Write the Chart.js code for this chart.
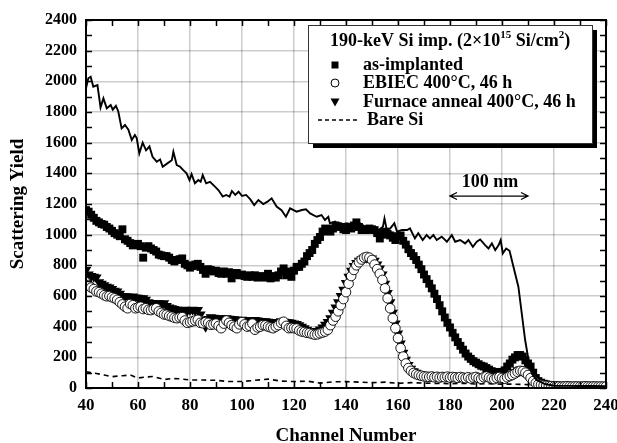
<!DOCTYPE html>
<html>
<head>
<meta charset="utf-8">
<script src="https://cdn.jsdelivr.net/npm/chart.js@4.4.1/dist/chart.umd.min.js"></script>
<style>
  html, body { margin: 0; padding: 0; background: #fff; }
  #wrap { width: 617px; height: 443px; }
</style>
</head>
<body>
<div id="wrap"><canvas id="rbs" width="617" height="443"></canvas></div>
<script>
// ---------------------------------------------------------------
//  Data (channels 40..240, one value per channel)
// ---------------------------------------------------------------
const channels = Array.from({ length: 201 }, (_, i) => 40 + i);

const asImplanted = [
  1160, 1150, 1130, 1110, 1090, 1080, 1070, 1065, 1050, 1040,
  1025, 1010, 1000, 990, 1035, 970, 960, 945, 930, 935,
  940, 925, 850, 915, 925, 910, 900, 890, 870, 865,
  860, 860, 850, 835, 825, 835, 840, 845, 810, 800,
  785, 795, 805, 810, 790, 770, 745, 775, 770, 760,
  765, 750, 745, 760, 745, 755, 715, 740, 750, 735,
  740, 730, 725, 735, 725, 735, 720, 725, 730, 720,
  745, 715, 730, 720, 735, 760, 780, 735, 760, 725,
  765, 790, 790, 810, 825, 860, 880, 900, 940, 965,
  985, 1020, 1040, 1025, 1020, 1040, 1060, 1055, 1050, 1035,
  1030, 1045, 1040, 1060, 1080, 1050, 1030, 1035, 1030, 1040,
  1035, 1030, 1010, 975, 1000, 1020, 1005, 995, 980, 965,
  990, 995, 960, 935, 905, 880, 860, 835, 805, 775,
  740, 710, 680, 650, 615, 580, 540, 500, 460, 425,
  395, 360, 330, 300, 275, 250, 225, 205, 190, 175,
  165, 155, 145, 140, 130, 120, 110, 105, 100, 95,
  105, 115, 140, 160, 185, 200, 215, 215, 205, 180,
  160, 140, 100, 65, 45, 35, 28, 24, 20, 18,
  16, 14, 15, 13, 14, 15, 13, 12, 14, 13,
  12, 14, 13, 12, 13, 14, 12, 13, 12, 13,
  12
];

const ebiec = [
  690, 672, 655, 645, 630, 625, 615, 605, 598, 600,
  592, 585, 575, 560, 545, 530, 520, 548, 540, 520,
  525, 530, 515, 520, 510, 508, 515, 520, 500, 490,
  480, 478, 470, 465, 458, 455, 460, 462, 440, 425,
  430, 435, 440, 445, 425, 422, 430, 425, 412, 415,
  420, 405, 390, 420, 440, 425, 410, 400, 390, 415,
  430, 415, 400, 405, 420, 380, 395, 400, 410, 408,
  400, 395, 390, 400, 410, 425, 432, 405, 390, 392,
  390, 388, 375, 368, 365, 360, 358, 352, 348, 350,
  357, 362, 368, 380, 410, 440, 465, 500, 540, 580,
  625, 680, 730, 770, 800, 820, 838, 850, 855, 850,
  835, 805, 775, 745, 705, 650, 585, 520, 455, 390,
  325, 260, 205, 160, 130, 112, 98, 90, 84, 80,
  76, 74, 72, 75, 70, 73, 68, 72, 70, 74,
  68, 72, 70, 66, 72, 68, 64, 70, 62, 68,
  72, 65, 60, 70, 75, 68, 62, 58, 66, 72,
  65, 60, 70, 78, 85, 95, 105, 112, 110, 100,
  85, 65, 45, 32, 24, 20, 16, 14, 12, 12,
  10, 11, 10, 9, 10, 11, 10, 9, 10, 10,
  9, 10, 11, 10, 9, 10, 10, 9, 10, 9,
  10
];

const furnace = [
  770, 740, 730, 725, 720, 690, 680, 670, 660, 655,
  645, 635, 630, 615, 600, 598, 596, 594, 596, 590,
  588, 586, 585, 575, 560, 552, 555, 550, 552, 548,
  552, 535, 525, 520, 515, 510, 508, 505, 510, 505,
  508, 510, 505, 508, 480, 445, 400, 450, 462, 458,
  455, 452, 455, 450, 455, 452, 450, 448, 445, 442,
  445, 442, 440, 440, 438, 443, 440, 437, 435, 435,
  432, 430, 430, 428, 430, 435, 433, 430, 428, 425,
  420, 418, 410, 400, 390, 380, 372, 368, 368, 372,
  382, 395, 412, 430, 455, 490, 525, 560, 600, 640,
  685, 725, 765, 795, 815, 830, 840, 848, 850, 848,
  845, 830, 805, 780, 740, 680, 620, 560, 490, 420,
  355, 290, 230, 185, 150, 125, 110, 100, 92, 85,
  80, 78, 76, 80, 75, 78, 74, 77, 75, 79,
  74, 76, 75, 72, 77, 73, 70, 75, 68, 72,
  76, 70, 66, 74, 78, 72, 68, 64, 70, 76,
  70, 66, 74, 82, 92, 102, 115, 120, 115, 104,
  88, 68, 48, 34, 26, 20, 16, 14, 13, 12,
  11, 12, 11, 10, 11, 12, 11, 10, 11, 11,
  10, 11, 12, 11, 10, 11, 11, 10, 11, 10,
  11
];

// solid line (random spectrum), read as channel / yield pairs
const randomX = [
  40, 40.9, 41.8, 42.8, 44.4, 45.6, 46.7, 48, 49.5, 50.3, 51.5, 52.4, 53.7, 55, 56.3,
  57.6, 58.8, 59.5, 60.5, 61.8, 63.1, 64.4, 65.6, 67.2, 68.5, 69.5, 71.3, 73, 73.6,
  74.9, 76.2, 77.4, 78.7, 79.8, 80.6, 81.9, 83.2, 84.1, 84.9, 86.2, 87.7, 89.6, 90.9,
  92.6, 93.9, 95.2, 96.1, 97.4, 98.7, 100, 101.6, 103.2, 104.7, 106.3, 108.2, 109.8,
  111.4, 113.3, 115.2, 116.9, 118.5, 121, 123, 124.6, 126.2, 128.7, 130.6, 131.9,
  133.2, 133.8, 135.8, 137.7, 140.3, 142.8, 145.4, 147.4, 150, 152.5, 154.2, 154.8,
  155.7, 157, 158.6, 159.6, 161.5, 163.5, 164.6, 166.5, 167.8, 169.5, 171, 172.3,
  173.6, 174.9, 176.8, 178.8, 180.7, 182, 183.9, 185.8, 187.1, 188.8, 190.3, 191.6,
  193.5, 194.8, 196.1, 197.4, 198.7, 199.5, 200.3, 201.6, 202.9, 204.4, 206.3, 207.6,
  208.9, 210.2, 211.4, 213.3, 216.5, 220, 225, 230, 235, 240
];
const randomY = [
  1955, 2020, 2030, 1965, 1976, 1830, 1889, 1824, 1845, 1815, 1840, 1805, 1693, 1715, 1685,
  1617, 1650, 1630, 1530, 1600, 1550, 1575, 1508, 1476, 1491, 1443, 1465, 1485, 1541,
  1454, 1443, 1421, 1400, 1356, 1395, 1335, 1356, 1345, 1389, 1335, 1345, 1313, 1291,
  1248, 1259, 1248, 1285, 1259, 1280, 1252, 1259, 1230, 1193, 1226, 1200, 1215,
  1237, 1183, 1160, 1117, 1172, 1150, 1161, 1165, 1139, 1117, 1128, 1096,
  1117, 1074, 1085, 1063, 1074, 1063, 1074, 1052, 1041, 1030, 1052, 1106,
  1030, 1041, 1074, 1020, 1030, 1030, 1041, 976, 1009, 965, 998, 976,
  998, 965, 987, 954, 998, 954, 965, 943, 965, 921, 954, 969,
  932, 910, 943, 899, 932, 965, 878, 910, 895, 791, 661, 487,
  313, 183, 96, 52, 26, 15, 14, 13, 13, 12
];

// bare Si (dashed)
const bareX = [
  40, 44, 47, 50, 54, 57, 60, 63, 66, 70, 73, 76, 80, 85, 90, 95, 100, 105, 110, 115,
  120, 125, 130, 135, 140, 145, 150, 155, 160, 165, 170, 175, 180, 185, 190, 195, 200,
  205, 210, 213, 216, 220, 230, 240
];
const bareY = [
  105, 95, 85, 74, 80, 85, 65, 72, 75, 55, 62, 60, 52, 52, 50, 42, 42, 50, 58, 45,
  42, 45, 32, 40, 42, 38, 35, 38, 30, 35, 32, 30, 28, 30, 26, 28, 25,
  25, 22, 16, 12, 10, 9, 8
];

const xTicks = { min: 40, max: 240, step: 20, minor: 10 };
const yTicks = { min: 0, max: 2400, step: 200, minor: 100 };

const legendTitle = ["190-keV Si imp. (2\u00d710", "15", " Si/cm", "2", ")"];
const legendLabels = ["as-implanted", "EBIEC 400\u00b0C, 46 h", "Furnace anneal 400\u00b0C, 46 h", "Bare Si"];
const scaleBar = { from: 180, to: 210, y: 1252, label: "100 nm", labelY: 1340 };

// ---------------------------------------------------------------
//  Helpers
// ---------------------------------------------------------------
const FONT = "'Liberation Serif', 'Times New Roman', serif";
const pairs = (xs, ys) => xs.map((x, i) => ({ x, y: ys[i] }));

// frame + inward ticks on all four sides
const framePlugin = {
  id: "frame",
  afterDraw(chart) {
    const { ctx: c, chartArea: a, scales: { x, y } } = chart;
    c.save();
    c.strokeStyle = "#000";
    c.lineWidth = 1.5;
    c.beginPath();
    for (let v = xTicks.min; v <= xTicks.max; v += xTicks.minor) {
      const px = Math.round(x.getPixelForValue(v)) + 0.5;
      c.moveTo(px, a.bottom); c.lineTo(px, a.bottom - 6);
      c.moveTo(px, a.top);    c.lineTo(px, a.top + 6);
    }
    for (let v = yTicks.min; v <= yTicks.max; v += yTicks.minor) {
      const py = Math.round(y.getPixelForValue(v)) + 0.5;
      c.moveTo(a.left, py);  c.lineTo(a.left + 6, py);
      c.moveTo(a.right, py); c.lineTo(a.right - 6, py);
    }
    c.stroke();
    c.lineWidth = 2;
    c.strokeRect(a.left, a.top, a.right - a.left, a.bottom - a.top);
    c.restore();
  },
};

// boxed legend with drop shadow + "100 nm" scale bar
const legendPlugin = {
  id: "boxLegend",
  afterDraw(chart) {
    const c = chart.ctx;
    const { x, y } = chart.scales;
    const bx = 308, by = 25, bw = 284, bh = 118;
    c.save();
    c.fillStyle = "#000";
    c.fillRect(bx + 5, by + 5, bw, bh);
    c.fillStyle = "#fff";
    c.fillRect(bx, by, bw, bh);
    c.strokeStyle = "#333";
    c.lineWidth = 1;
    c.strokeRect(bx + 0.5, by + 0.5, bw, bh);

    c.fillStyle = "#000";
    c.textBaseline = "middle";
    c.textAlign = "left";
    // title with superscripts
    let tx = 330;
    const ty = 41;
    legendTitle.forEach((part, i) => {
      const sup = i % 2 === 1;
      c.font = `bold ${sup ? 11 : 18}px ${FONT}`;
      c.fillText(part, tx, sup ? ty - 6 : ty);
      tx += c.measureText(part).width;
    });

    c.font = `bold 18px ${FONT}`;
    const rows = [65, 83, 102, 120];
    const mx = 335, lx = 363;
    // square
    c.fillRect(mx - 3.5, rows[0] - 3.5, 7, 7);
    // circle
    c.beginPath();
    c.arc(mx, rows[1], 4, 0, Math.PI * 2);
    c.fillStyle = "#fff"; c.fill();
    c.strokeStyle = "#000"; c.lineWidth = 1; c.stroke();
    c.fillStyle = "#000";
    // down triangle
    c.beginPath();
    c.moveTo(mx - 4.5, rows[2] - 3.5);
    c.lineTo(mx + 4.5, rows[2] - 3.5);
    c.lineTo(mx, rows[2] + 4.5);
    c.closePath(); c.fill();
    // dashed line
    c.beginPath();
    c.setLineDash([4, 3]);
    c.lineWidth = 1.5;
    c.moveTo(318, rows[3]); c.lineTo(358, rows[3]);
    c.stroke();
    c.setLineDash([]);

    legendLabels.forEach((t, i) => c.fillText(t, i === 3 ? 367 : lx, rows[i]));

    // scale bar
    const x0 = x.getPixelForValue(scaleBar.from);
    const x1 = x.getPixelForValue(scaleBar.to);
    const py = y.getPixelForValue(scaleBar.y);
    c.beginPath();
    c.lineWidth = 1.3;
    c.moveTo(x0, py); c.lineTo(x1, py);
    c.moveTo(x0 + 7, py - 3.5); c.lineTo(x0, py); c.lineTo(x0 + 7, py + 3.5);
    c.moveTo(x1 - 7, py - 3.5); c.lineTo(x1, py); c.lineTo(x1 - 7, py + 3.5);
    c.stroke();
    c.textAlign = "center";
    c.fillText(scaleBar.label, (x0 + x1) / 2 + 1, y.getPixelForValue(scaleBar.labelY));
    c.restore();
  },
};

// ---------------------------------------------------------------
//  Chart
// ---------------------------------------------------------------
Chart.defaults.font.family = FONT;
Chart.defaults.color = "#000";

new Chart(document.getElementById("rbs"), {
  type: "scatter",
  data: {
    datasets: [
      {
        label: "random",
        data: pairs(randomX, randomY),
        showLine: true,
        borderColor: "#000",
        borderWidth: 1.9,
        pointRadius: 0,
      },
      {
        label: legendLabels[1],
        data: pairs(channels, ebiec),
        pointStyle: "circle",
        pointRadius: 4.8,
        backgroundColor: "#fff",
        borderColor: "#000",
        borderWidth: 0.9,
      },
      {
        label: legendLabels[2],
        data: pairs(channels, furnace),
        pointStyle: "triangle",
        rotation: 180,
        pointRadius: 6,
        backgroundColor: "#000",
        borderColor: "#000",
        borderWidth: 0,
      },
      {
        label: legendLabels[0],
        data: pairs(channels, asImplanted),
        pointStyle: "rect",
        pointRadius: 5.6,
        backgroundColor: "#000",
        borderColor: "#000",
        borderWidth: 0,
      },
      {
        label: legendLabels[3],
        data: pairs(bareX, bareY),
        showLine: true,
        borderColor: "#000",
        borderWidth: 1.6,
        borderDash: [5, 4],
        pointRadius: 0,
      },
    ],
  },
  options: {
    responsive: false,
    animation: false,
    layout: { padding: { top: 20, right: 11, left: 0, bottom: 0 } },
    scales: {
      x: {
        type: "linear",
        min: xTicks.min,
        max: xTicks.max,
        ticks: {
          stepSize: xTicks.step,
          padding: 7,
          font: { size: 17, weight: "bold" },
          callback: v => String(v),
        },
        grid: { color: "rgba(0,0,0,0.2)", lineWidth: 1.5, drawTicks: false },
        border: { display: false },
        title: {
          display: true,
          text: "Channel Number",
          font: { size: 19, weight: "bold", lineHeight: 0.75 },
          padding: 0,
        },
        afterFit(s) { s.height = 55; s.paddingLeft = 0; s.paddingRight = 0; },
      },
      y: {
        min: yTicks.min,
        max: yTicks.max,
        ticks: {
          stepSize: yTicks.step,
          padding: 9,
          font: { size: 16, weight: "bold" },
          callback: v => String(v),
        },
        grid: { color: "rgba(0,0,0,0.2)", lineWidth: 1.5, drawTicks: false },
        border: { display: false },
        title: {
          display: true,
          text: "Scattering Yield",
          font: { size: 19, weight: "bold" },
          padding: { top: 7, bottom: 0 },
        },
        afterFit(s) { s.width = 86; },
      },
    },
    plugins: {
      legend: { display: false },
      tooltip: { enabled: false },
    },
  },
  plugins: [framePlugin, legendPlugin],
});
</script>
</body>
</html>
